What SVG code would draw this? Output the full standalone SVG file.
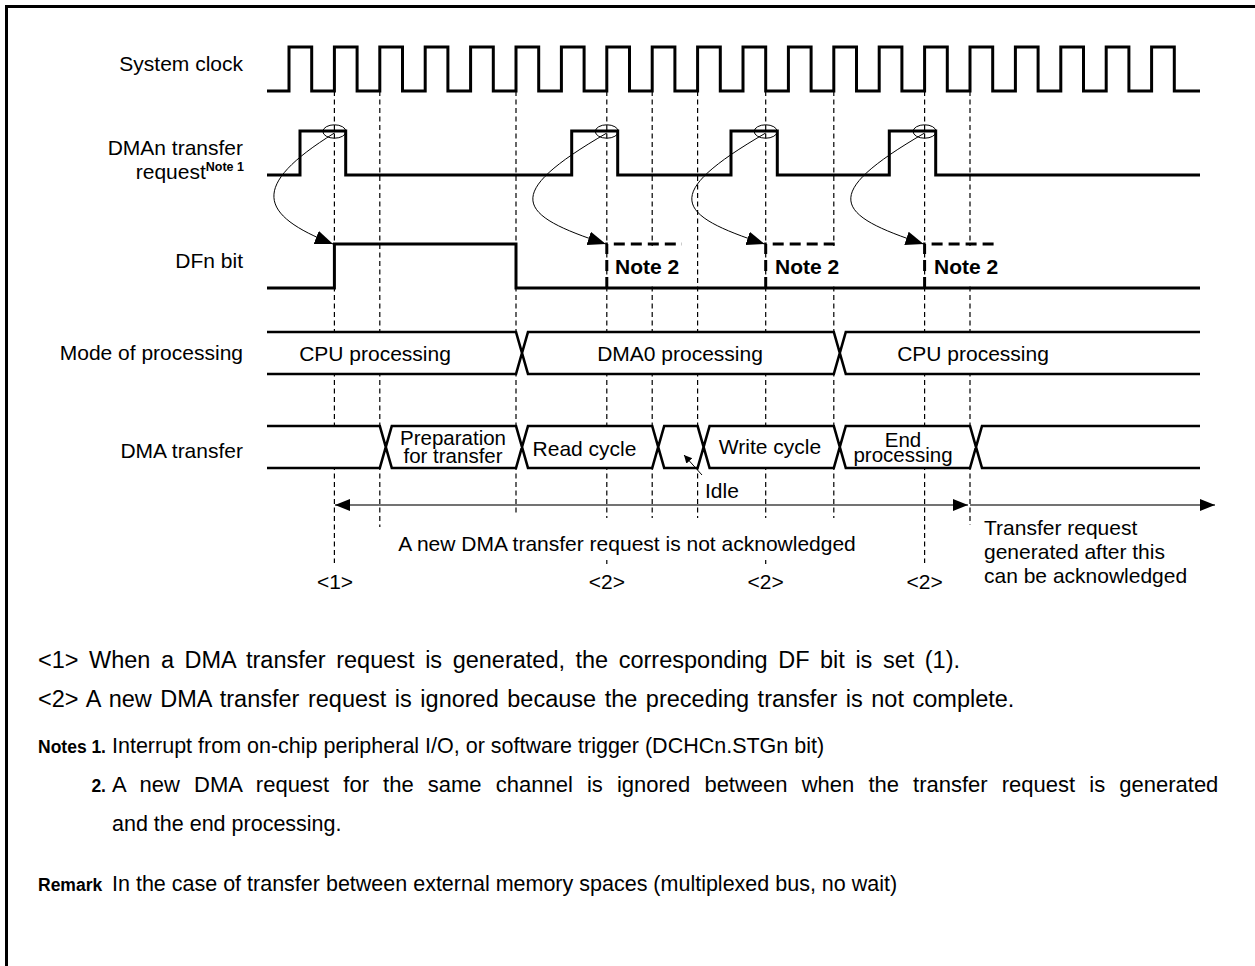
<svg xmlns="http://www.w3.org/2000/svg" width="1255" height="966" viewBox="0 0 1255 966">
<style>
text{font-family:'Liberation Sans',Arial,Helvetica,sans-serif;fill:#000}
.lbl{font-size:21px;text-anchor:end}
.t21{font-size:21px}
.t20{font-size:20.5px}
.mid{text-anchor:middle}
.b{font-weight:bold}
.sig{fill:none;stroke:#000;stroke-width:3;stroke-linejoin:miter}
.band{fill:none;stroke:#000;stroke-width:2.6}
.grid{fill:none;stroke:#000;stroke-width:1.2;stroke-dasharray:5 3.5}
.thick-dash{fill:none;stroke:#000;stroke-width:3;stroke-dasharray:11 6}
.thin{fill:none;stroke:#000;stroke-width:1}
.ell{fill:none;stroke:#000;stroke-width:1}
.arr{fill:none;stroke:#444;stroke-width:1.6}
.body{font-size:21.5px}
.big{font-size:23.5px}
.just{font-size:22px}
.nb{font-size:17.5px;font-weight:bold}
</style>
<defs>
<marker id="ah" markerUnits="userSpaceOnUse" markerWidth="20" markerHeight="16" refX="18" refY="7" orient="auto">
<path d="M0,0 L18,7 L0,14 z" fill="#000"/>
</marker>
<marker id="ah2" markerUnits="userSpaceOnUse" markerWidth="18" markerHeight="14" refX="15" refY="6" orient="auto-start-reverse">
<path d="M0,0 L15,6 L0,12 z" fill="#000"/>
</marker>
<marker id="ahs" markerUnits="userSpaceOnUse" markerWidth="10" markerHeight="10" refX="8" refY="4" orient="auto">
<path d="M0,0 L8,4 L0,8 z" fill="#000"/>
</marker>
</defs>
<rect x="0" y="0" width="1255" height="966" fill="#fff"/>
<path d="M6.5,966 V6.5 H1255" fill="none" stroke="#000" stroke-width="3"/>

<g id="labels">
<text class="lbl" x="243" y="71">System clock</text>
<text class="lbl" x="243" y="155">DMAn transfer</text>
<text class="lbl" x="244" y="179">request<tspan font-size="12.5" font-weight="bold" dy="-8">Note 1</tspan></text>
<text class="lbl" x="243" y="268">DFn bit</text>
<text class="lbl" x="243" y="360">Mode of processing</text>
<text class="lbl" x="243" y="458">DMA transfer</text>
</g>

<g id="gridlines">
<path class="grid" d="M334.4,91 V563 M379.8,91 V527 M516,91 V515 M606.8,91 V518 M606.8,560 V564 M652.2,91 V518 M697.6,91 V518 M765.7,91 V518 M765.7,560 V564 M833.8,91 V518 M924.6,91 V563 M970,91 V525"/>
</g>

<g id="clock">
<path class="sig" d="M267,91 H289 V47 H311.7 V91 H334.4 V47 H357.1 V91 H379.8 V47 H402.5 V91 H425.2 V47 H447.9 V91 H470.6 V47 H493.3 V91 H516 V47 H538.7 V91 H561.4 V47 H584.1 V91 H606.8 V47 H629.5 V91 H652.2 V47 H674.9 V91 H697.6 V47 H720.3 V91 H743 V47 H765.7 V91 H788.4 V47 H811.1 V91 H833.8 V47 H856.5 V91 H879.2 V47 H901.9 V91 H924.6 V47 H947.3 V91 H970 V47 H992.7 V91 H1015.4 V47 H1038.1 V91 H1060.8 V47 H1083.5 V91 H1106.2 V47 H1128.9 V91 H1151.6 V47 H1174.3 V91 H1200"/>
</g>

<g id="request">
<path class="sig" d="M267,175 H300 V131 H345.7 V175 H571.7 V131 H617.7 V175 H731 V131 H777.3 V175 H889.3 V131 H935.7 V175 H1200"/>
<ellipse class="ell" cx="334.4" cy="131.5" rx="11.5" ry="6.7"/>
<ellipse class="ell" cx="606.8" cy="131.5" rx="11.5" ry="6.7"/>
<ellipse class="ell" cx="765.7" cy="131.5" rx="11.5" ry="6.7"/>
<ellipse class="ell" cx="924.6" cy="131.5" rx="11.5" ry="6.7"/>
</g>

<g id="dfn">
<rect x="608" y="246" width="76" height="40" fill="#fff"/>
<rect x="767" y="246" width="76" height="40" fill="#fff"/>
<rect x="926" y="246" width="76" height="40" fill="#fff"/>
<path class="sig" d="M267,288 H334.4 V244 H516 V288 H1200"/>
<path class="thick-dash" d="M606.8,288 V244 H682 M765.7,288 V244 H840 M924.6,288 V244 H999"/>
<text class="t21 b" x="615" y="274">Note 2</text>
<text class="t21 b" x="775" y="274">Note 2</text>
<text class="t21 b" x="934" y="274">Note 2</text>
</g>

<g id="mode">
<rect x="267" y="333" width="933" height="40" fill="#fff"/>
<path class="band" d="M267,332 H516 L528,374 H833.8 L845.8,332 H1200 M267,374 H516 L528,332 H833.8 L845.8,374 H1200"/>
<text class="t21 mid" x="375" y="361">CPU processing</text>
<text class="t21 mid" x="680" y="361">DMA0 processing</text>
<text class="t21 mid" x="973" y="361">CPU processing</text>
</g>

<g id="dmatransfer">
<rect x="267" y="427" width="933" height="40" fill="#fff"/>
<path class="band" d="M267,426 H379.8 L391.8,468 H516 L528,426 H652.2 L664.2,468 H697.6 L709.6,426 H833.8 L845.8,468 H970 L982,426 H1200 M267,468 H379.8 L391.8,426 H516 L528,468 H652.2 L664.2,426 H697.6 L709.6,468 H833.8 L845.8,426 H970 L982,468 H1200"/>
<text class="t20 mid" x="453" y="445">Preparation</text>
<text class="t20 mid" x="453" y="463">for transfer</text>
<text class="t21 mid" x="584.5" y="456">Read cycle</text>
<text class="t21 mid" x="770" y="454">Write cycle</text>
<text class="t20 mid" x="903" y="447">End</text>
<text class="t20 mid" x="903" y="462">processing</text>
<text class="t21" x="705" y="498">Idle</text>
</g>

<g id="connectors">
<path class="thin" d="M334.4,133 C249,186 259,215 333,244" marker-end="url(#ah)"/>
<path class="thin" d="M606.8,133 C500,195 517,215 605.8,244" marker-end="url(#ah)"/>
<path class="thin" d="M765.7,133 C659,195 676,215 764.7,244" marker-end="url(#ah)"/>
<path class="thin" d="M924.6,133 C818,195 835,215 923.6,244" marker-end="url(#ah)"/>
<path class="thin" d="M702,475 L684,455" marker-end="url(#ahs)"/>
<path class="arr" d="M335,505 H968" marker-start="url(#ah2)" marker-end="url(#ah2)"/>
<path class="arr" d="M970,505 H1215" marker-end="url(#ah2)"/>
</g>

<g id="annotations">
<text class="t21 mid" x="627" y="551">A new DMA transfer request is not acknowledged</text>
<text class="t21 mid" x="335" y="589">&lt;1&gt;</text>
<text class="t21 mid" x="606.8" y="589">&lt;2&gt;</text>
<text class="t21 mid" x="765.7" y="589">&lt;2&gt;</text>
<text class="t21 mid" x="924.6" y="589">&lt;2&gt;</text>
<text class="t21" x="984" y="535">Transfer request</text>
<text class="t21" x="984" y="559">generated after this</text>
<text class="t21" x="984" y="583">can be acknowledged</text>
</g>

<g id="notes">
<text class="big" x="38" y="668" word-spacing="4">&lt;1&gt; When a DMA transfer request is generated, the corresponding DF bit is set (1).</text>
<text class="big" x="38" y="707" word-spacing="2">&lt;2&gt; A new DMA transfer request is ignored because the preceding transfer is not complete.</text>
<text class="nb" x="38" y="753">Notes</text>
<text class="nb" x="106" y="753" text-anchor="end">1.</text>
<text class="body" x="112" y="753">Interrupt from on-chip peripheral I/O, or software trigger (DCHCn.STGn bit)</text>
<text class="nb" x="106" y="792" text-anchor="end">2.</text>
<text class="just" x="112" y="792" word-spacing="8">A new DMA request for the same channel is ignored between when the transfer request is generated</text>
<text class="body" x="112" y="831">and the end processing.</text>
<text class="nb" x="38" y="891">Remark</text>
<text class="body" x="112" y="891">In the case of transfer between external memory spaces (multiplexed bus, no wait)</text>
</g>
</svg>
